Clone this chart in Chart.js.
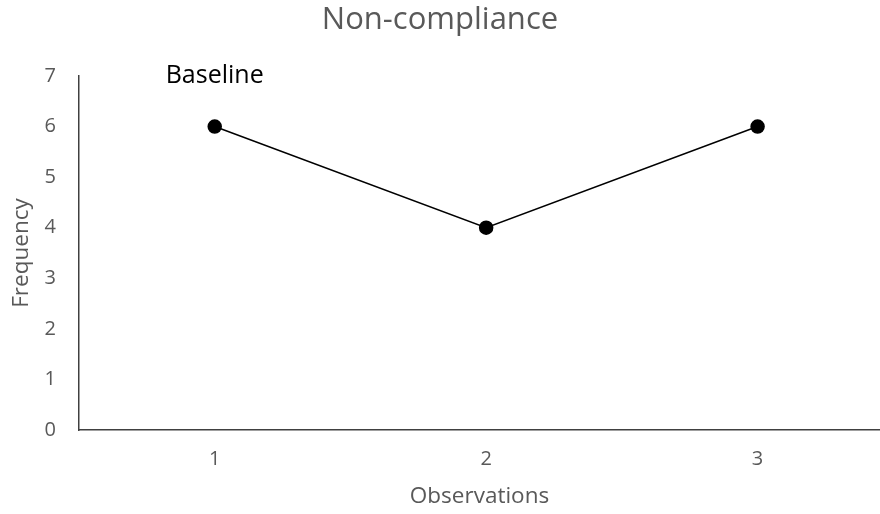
<!DOCTYPE html>
<html>
<head>
<meta charset="utf-8">
<script src="https://cdn.jsdelivr.net/npm/chart.js@4/dist/chart.umd.min.js"></script>
<style>
  html, body { margin: 0; padding: 0; background: #fff; overflow: hidden; }
  #wrap { width: 880px; height: 514px; position: relative; }
</style>
</head>
<body>
<div id="wrap"><canvas id="chart"></canvas></div>
<script>
// data
const observations = [1, 2, 3];
const frequency = [6, 4, 6];
const yTicks = [0, 1, 2, 3, 4, 5, 6, 7];
const phaseLabel = 'Baseline';

const FONT = '"Open Sans", "Noto Sans", sans-serif';
const GREY = '#595959';

// phase label above the first observation
const phasePlugin = {
    id: 'phaseLabel',
    afterDraw(chart) {
        const { ctx, scales } = chart;
        ctx.save();
        ctx.font = `25px ${FONT}`;
        ctx.fillStyle = '#000';
        ctx.textAlign = 'center';
        ctx.textBaseline = 'middle';
        ctx.fillText(phaseLabel, scales.x.getPixelForValue(observations[0]), scales.y.getPixelForValue(7));
        ctx.restore();
    }
};

new Chart(document.getElementById('chart'), {
    type: 'line',
    data: {
        datasets: [{
            label: 'Non-compliance',
            data: observations.map((o, i) => ({ x: o, y: frequency[i] })),
            borderColor: '#000',
            backgroundColor: '#000',
            borderWidth: 1.5,
            pointRadius: 6.5,
            pointBackgroundColor: '#000',
            pointBorderColor: '#000',
            tension: 0,
        }]
    },
    options: {
        responsive: true,
        maintainAspectRatio: false,
        animation: false,
        layout: { padding: 0, autoPadding: false },
        scales: {
            x: {
                type: 'linear',
                min: 0.5,
                max: 3.451,
                afterBuildTicks: (s) => { s.ticks = observations.map(v => ({ value: v })); },
                afterFit: (s) => { s.height = 84; },
                grid: { display: false, drawTicks: false },
                border: { display: true, color: '#404040', width: 1.5 },
                ticks: { color: GREY, font: { family: FONT, size: 20 }, padding: 17 },
                title: {
                    display: true,
                    text: 'Observations',
                    color: GREY,
                    font: { family: FONT, size: 22.5 },
                    padding: { top: 0, bottom: 3.5 }
                }
            },
            y: {
                min: 0,
                max: 7,
                afterBuildTicks: (s) => { s.ticks = yTicks.map(v => ({ value: v })); },
                afterFit: (s) => { s.width = 79; },
                grid: { display: false, drawTicks: false },
                border: { display: true, color: '#404040', width: 1.5 },
                ticks: { color: GREY, font: { family: FONT, size: 20 }, padding: 23 },
                title: {
                    display: true,
                    text: 'Frequency',
                    color: GREY,
                    font: { family: FONT, size: 22.5 },
                    padding: { top: 8, bottom: 0 }
                }
            }
        },
        plugins: {
            legend: { display: false },
            tooltip: { enabled: false },
            title: {
                display: true,
                text: 'Non-compliance',
                color: GREY,
                font: { family: FONT, size: 31, weight: 'normal' },
                padding: { top: 1.4, bottom: 37.4 }
            }
        }
    },
    plugins: [phasePlugin]
});
</script>
</body>
</html>
